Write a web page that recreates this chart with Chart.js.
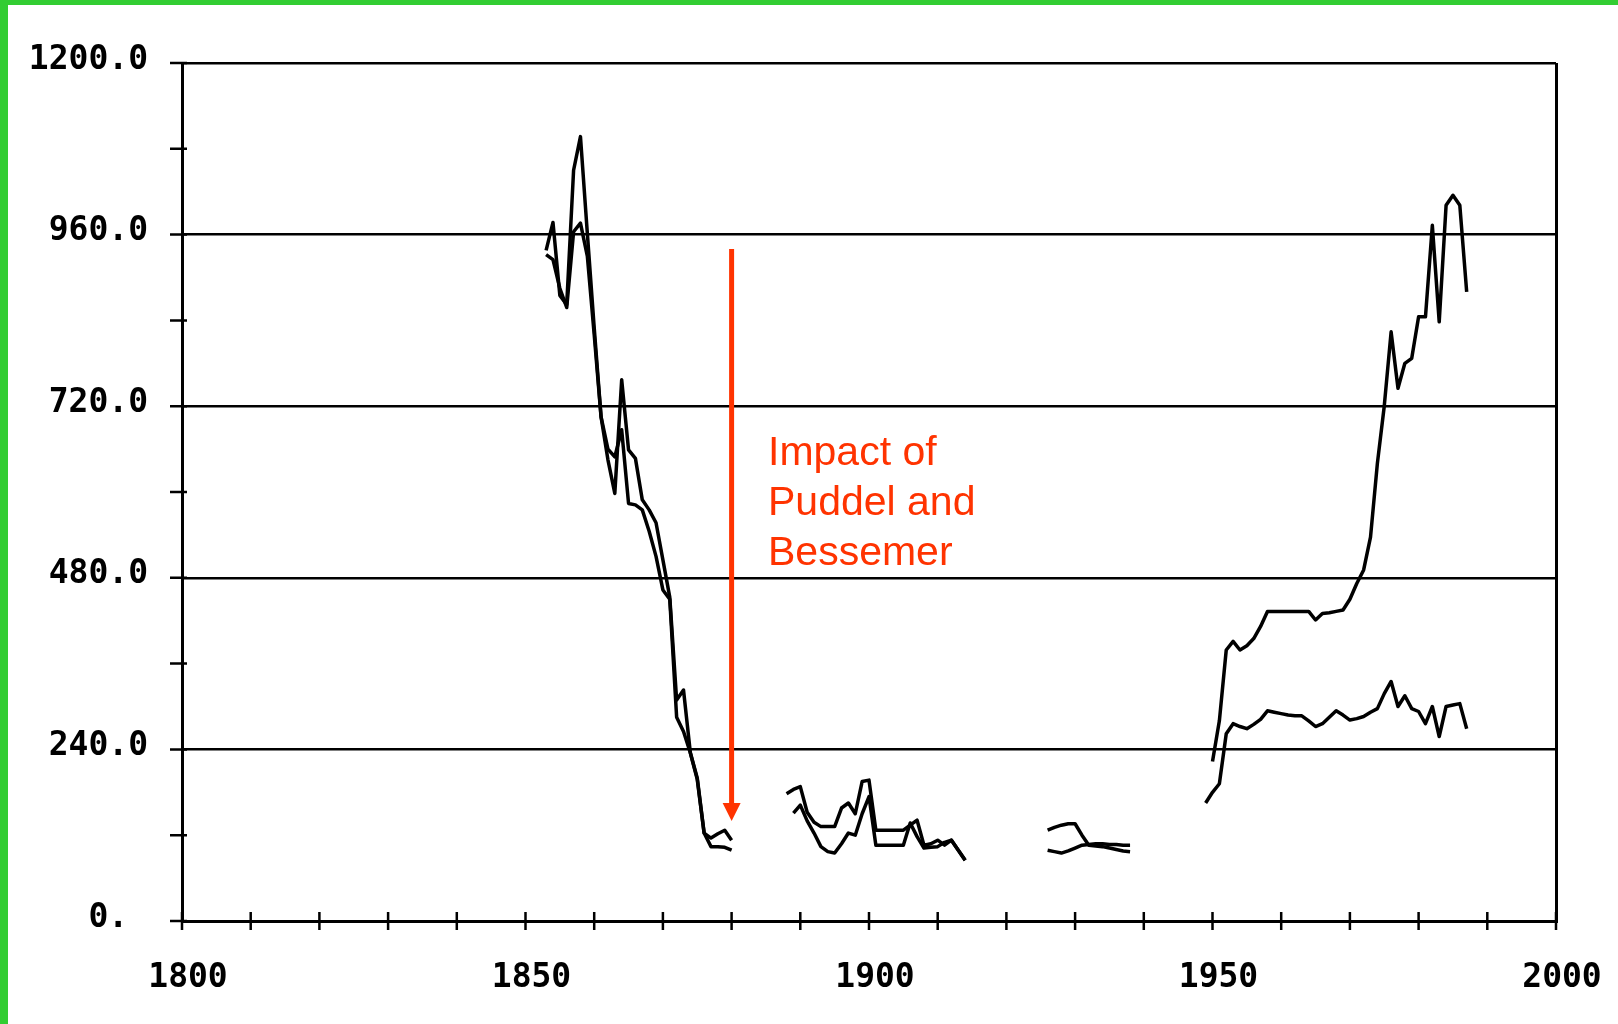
<!DOCTYPE html>
<html>
<head>
<meta charset="utf-8">
<script src="https://cdn.jsdelivr.net/npm/chart.js@4.4.1/dist/chart.umd.min.js"></script>
<style>
    html, body { margin: 0; padding: 0; background: #fff; }
    #wrap { position: relative; width: 1618px; height: 1024px; overflow: hidden; }
    #chart { position: absolute; left: 0; top: 0; }
    .edge { position: absolute; background: #32cd32; }
</style>
</head>
<body>
<div id="wrap">
    <canvas id="chart" width="1618" height="1024"></canvas>
    <div class="edge" style="left:0;top:0;width:1618px;height:5px"></div>
    <div class="edge" style="left:0;top:0;width:8px;height:1024px"></div>
</div>
<script>
// yearly values, two curves per period
const upper1853 = [938, 977, 875, 862, 1050, 1097, 962, 830, 705, 645, 598, 757, 659, 647, 589, 575, 557, 505, 453, 309, 323, 235, 200, 123, 116, 122, 127, 113];
const lower1853 = [932, 925, 885, 858, 964, 976, 930, 820, 705, 660, 649, 687, 584, 582, 575, 545, 510, 463, 450, 285, 265, 235, 198, 123, 104, 104, 103, 99];

const upper1888 = [178, 184, 188, 152, 138, 132, 132, 132, 158, 165, 150, 195, 197, 127, 127, 127, 127, 127, 134, 141, 106, 108, 113, 106, 113, 99, 85];
const lower1889 = [151, 162, 140, 123, 104, 97, 95, 108, 123, 120, 150, 174, 106, 106, 106, 106, 106, 137, 118, 102, 103, 104, 110, 113, 99, 85];

const upper1926 = [127, 131, 134, 136, 136, 120, 106, 105, 104, 102, 100, 98, 97];
const lower1926 = [99, 97, 95, 98, 102, 106, 107, 108, 108, 107, 107, 106, 106];

const upper1950 = [223, 280, 379, 391, 379, 385, 395, 412, 433, 433, 433, 433, 433, 433, 433, 421, 430, 431, 433, 435, 450, 472, 491, 537, 640, 720, 824, 745, 780, 787, 845, 845, 973, 838, 1001, 1015, 1001, 880];
const lower1949 = [165, 180, 192, 262, 276, 272, 269, 275, 282, 294, 292, 290, 288, 287, 287, 280, 272, 276, 285, 294, 288, 281, 283, 286, 292, 297, 318, 335, 300, 315, 297, 293, 276, 300, 258, 300, 302, 304, 269];

const yMajorStep = 240;
const xLabelStep = 50;
const noteLines = ['Impact of', 'Puddel and', 'Bessemer'];
const arrowYear = 1880;
const arrowFrom = 940;
const arrowTo = 140;

const INK = '#000';
const NOTE = '#ff3300';
const TICK_FONT = { family: '"DejaVu Sans Mono", monospace', size: 33, weight: 'bold' };

function seg(start, values) {
    return values.map((v, i) => ({ x: start + i, y: v }));
}

const segments = [
    seg(1853, upper1853), seg(1853, lower1853),
    seg(1888, upper1888), seg(1889, lower1889),
    seg(1926, upper1926), seg(1926, lower1926),
    seg(1950, upper1950), seg(1949, lower1949)
];

// small tick marks crossing both axes, plus the red note
const decorations = {
    id: 'decorations',
    afterDraw(chart) {
        const { ctx, chartArea, scales } = chart;
        const x = scales.x, y = scales.y;
        ctx.save();
        ctx.strokeStyle = INK;
        ctx.lineWidth = 2.5;
        ctx.beginPath();
        x.ticks.forEach(t => {
            const px = x.getPixelForValue(t.value);
            ctx.moveTo(px, chartArea.bottom - 9);
            ctx.lineTo(px, chartArea.bottom + 9);
        });
        y.ticks.forEach(t => {
            const py = y.getPixelForValue(t.value);
            ctx.moveTo(chartArea.left - 12, py);
            ctx.lineTo(chartArea.left + 5, py);
        });
        ctx.stroke();

        // arrow
        const ax = x.getPixelForValue(arrowYear);
        const ay0 = y.getPixelForValue(arrowFrom);
        const ay1 = y.getPixelForValue(arrowTo);
        ctx.strokeStyle = NOTE;
        ctx.fillStyle = NOTE;
        ctx.lineWidth = 5;
        ctx.beginPath();
        ctx.moveTo(ax, ay0);
        ctx.lineTo(ax, ay1 - 16);
        ctx.stroke();
        ctx.beginPath();
        ctx.moveTo(ax - 9, ay1 - 18);
        ctx.lineTo(ax + 9, ay1 - 18);
        ctx.lineTo(ax, ay1);
        ctx.closePath();
        ctx.fill();

        // note text
        ctx.font = '41px "Liberation Sans", Arial, sans-serif';
        ctx.textAlign = 'left';
        ctx.textBaseline = 'alphabetic';
        const tx = x.getPixelForValue(1885.3);
        const ty = y.getPixelForValue(638);
        noteLines.forEach((line, i) => ctx.fillText(line, tx, ty + i * 50));
        ctx.restore();
    }
};

new Chart(document.getElementById('chart'), {
    type: 'line',
    data: {
        datasets: segments.map(points => ({
            data: points,
            borderColor: INK,
            borderWidth: 3.5,
            borderJoinStyle: 'round',
            pointRadius: 0,
            tension: 0,
            fill: false
        }))
    },
    options: {
        responsive: false,
        animation: false,
        layout: { padding: { top: 63, right: 62, left: 0, bottom: 0 } },
        plugins: { legend: { display: false }, tooltip: { enabled: false } },
        scales: {
            x: {
                type: 'linear',
                min: 1800,
                max: 2000,
                afterFit: s => { s.height = 103; s.paddingLeft = 0; s.paddingRight = 0; },
                border: { display: true, color: INK, width: 3 },
                grid: {
                    drawTicks: false,
                    lineWidth: 3,
                    color: c => (c.tick && c.tick.value === 2000 ? INK : 'rgba(0,0,0,0)')
                },
                ticks: {
                    stepSize: 10,
                    autoSkip: false,
                    maxRotation: 0,
                    padding: 38,
                    labelOffset: 6,
                    color: INK,
                    font: TICK_FONT,
                    callback: v => (v % xLabelStep === 0 ? String(v) : '')
                }
            },
            y: {
                min: 0,
                max: 1200,
                afterFit: s => { s.width = 182; s.paddingTop = 0; s.paddingBottom = 0; },
                border: { display: true, color: INK, width: 3 },
                grid: {
                    drawTicks: false,
                    lineWidth: 2.5,
                    color: c => (c.tick && c.tick.value > 0 && c.tick.value % yMajorStep === 0 ? INK : 'rgba(0,0,0,0)')
                },
                ticks: {
                    stepSize: 120,
                    autoSkip: false,
                    padding: 34,
                    labelOffset: -3,
                    color: INK,
                    font: TICK_FONT,
                    callback: v => {
                        if (v === 0) return '0. ';
                        return v % yMajorStep === 0 ? v.toFixed(1) : '';
                    }
                }
            }
        }
    },
    plugins: [decorations]
});
</script>
</body>
</html>
